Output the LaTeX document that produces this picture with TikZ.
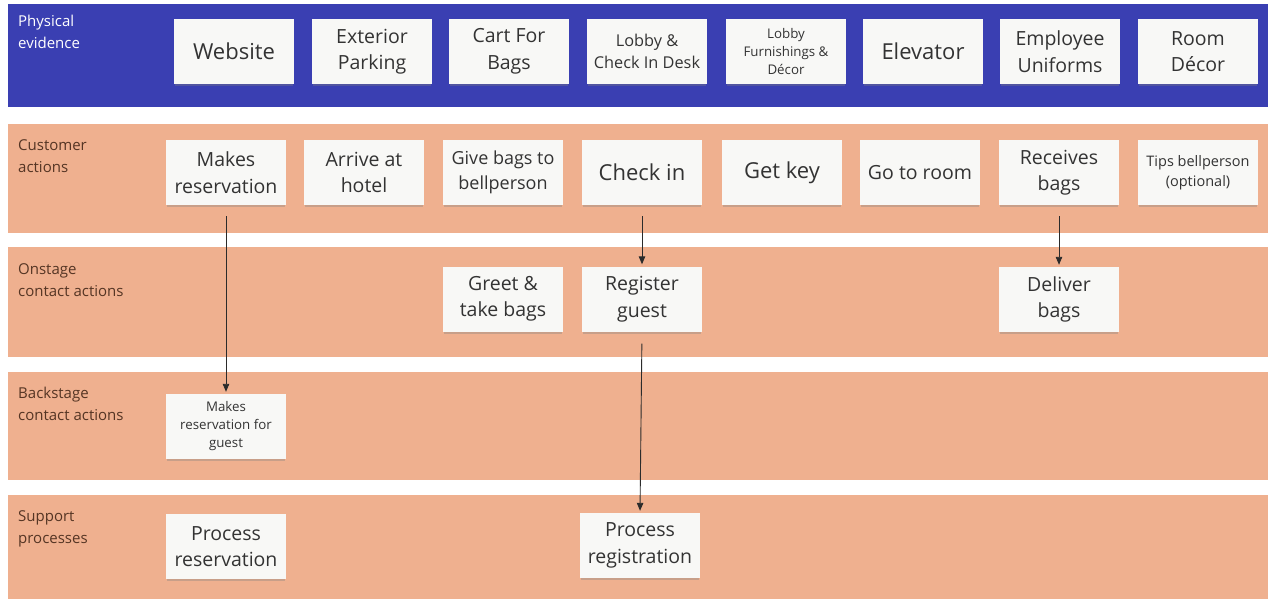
\documentclass[tikz,border=0pt]{standalone}
\usepackage{fontspec}
\setmainfont{Open Sans}
\usetikzlibrary{arrows.meta,shadows}

\definecolor{bandblue}{HTML}{3A3FB2}
\definecolor{bandpeach}{HTML}{EFB08F}
\definecolor{notefill}{HTML}{F8F8F6}
\definecolor{notetext}{HTML}{333333}
\definecolor{lanetext}{HTML}{553524}
\definecolor{linkcol}{HTML}{2B2B2B}

\begin{document}
\begin{tikzpicture}[x=1pt,y=-1pt,
  note/.style={fill=notefill, minimum width=120pt, minimum height=65pt,
    inner sep=2pt, align=center, text=notetext,
    drop shadow={shadow xshift=0pt,shadow yshift=-3pt,opacity=0.35,shadow scale=0.98}},
  fsA/.style={font=\fontsize{22}{30}\selectfont},
  fsB/.style={font=\fontsize{19.5}{26.5}\selectfont},
  fsC/.style={font=\fontsize{18}{24.5}\selectfont},
  fsD/.style={font=\fontsize{16.3}{22}\selectfont},
  fsE/.style={font=\fontsize{14.5}{19.5}\selectfont},
  fsF/.style={font=\fontsize{13.3}{18}\selectfont},
  % lane titles are placed by the baseline of their second line
  lane/.style={anchor=base west, align=left, inner sep=0pt,
    font=\fontsize{15}{22}\selectfont, text=lanetext},
  link/.style={draw=linkcol, line width=0.9pt,
    -{Triangle[length=8pt,width=6.5pt]}}]

\useasboundingbox[fill=white] (0,0) rectangle (1270,602);

% swimlane bands
\fill[bandblue]  (8,4)   rectangle (1268,107);
\fill[bandpeach] (8,124) rectangle (1268,233);
\fill[bandpeach] (8,247) rectangle (1268,357);
\fill[bandpeach] (8,372) rectangle (1268,480);
\fill[bandpeach] (8,495) rectangle (1268,599);

% lane titles
\node[lane, text=white] (lpe) at (18,49)  {Physical\\evidence};
\node[lane] (lca) at (18,172) {Customer\\actions};
\node[lane] (lon) at (18,296) {Onstage\\contact actions};
\node[lane] (lbk) at (18,420) {Backstage\\contact actions};
\node[lane] (lsp) at (18,543) {Support\\processes};

% physical evidence
\node[note, fsA] (web)   at (234,51.5)  {Website};
\node[note, fsB] (park)  at (372,51.5)  {Exterior\\Parking};
\node[note, fsB] (cart)  at (509,51.5)  {Cart For\\Bags};
\node[note, fsD] (lobby) at (647,51.5)  {Lobby \&\\Check In Desk};
\node[note, fsF] (furn)  at (786,51.5)  {Lobby\\Furnishings \&\\Décor};
\node[note, fsA] (elev)  at (923,51.5)  {Elevator};
\node[note, fsB] (unif)  at (1060,51.5) {Employee\\Uniforms};
\node[note, fsB] (room)  at (1198,51.5) {Room\\Décor};

% customer actions
\node[note, fsB] (mr)   at (226,172.5)  {Makes\\reservation};
\node[note, fsB] (arr)  at (364,172.5)  {Arrive at\\hotel};
\node[note, fsC] (give) at (503,172.5)  {Give bags to\\bellperson};
\node[note, fsA] (ci)   at (642,172.5)  {Check in};
\node[note, fsA] (key)  at (782,172.5)  {Get key};
\node[note, fsB] (go)   at (920,172.5)  {Go to room};
\node[note, fsB] (rb)   at (1059,172.5) {Receives\\bags};
\node[note, fsE] (tips) at (1198,172.5) {Tips bellperson\\(optional)};

% onstage contact actions
\node[note, fsB] (greet) at (503,299)    {Greet \&\\take bags};
\node[note, fsB] (rg)    at (642,299)    {Register\\guest};
\node[note, fsB] (db)    at (1059,299.5) {Deliver\\bags};

% backstage contact actions
\node[note, fsF] (mrg) at (226,426.5) {Makes\\reservation for\\guest};

% support processes
\node[note, fsB] (pres) at (226,546.5) {Process\\reservation};
\node[note, fsB] (preg) at (640,545.5) {Process\\registration};

% flow links
\draw[link, shorten <=11pt, shorten >=2pt] (mr.south) -- (mrg.north);
\draw[link, shorten <=11pt, shorten >=2pt] (ci.south) -- (rg.north);
\draw[link, shorten <=12pt, shorten >=2pt] (rg.south) -- (preg.north);
\draw[link, shorten <=11pt, shorten >=2pt] (rb.south) -- (db.north);

\end{tikzpicture}
\end{document}
